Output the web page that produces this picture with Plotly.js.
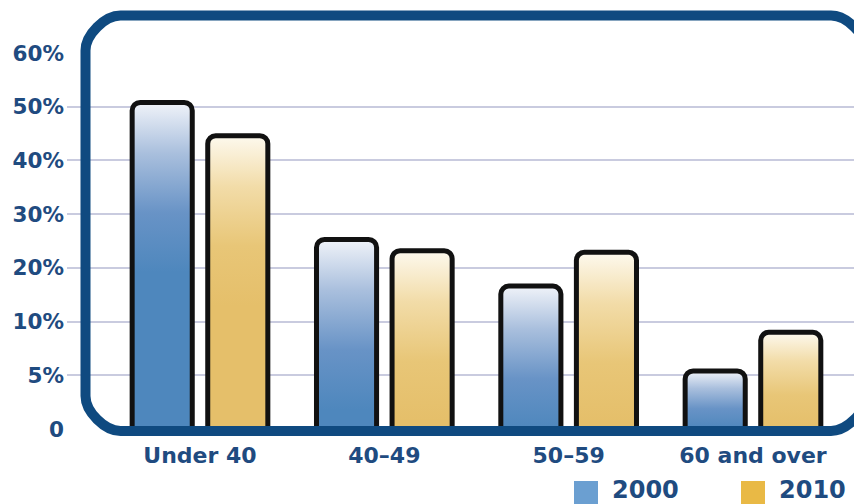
<!DOCTYPE html>
<html>
<head>
<meta charset="utf-8">
<script src="https://cdn.plot.ly/plotly-3.0.1.min.js"></script>
<style>
  html, body { margin: 0; padding: 0; background: #ffffff; }
  #chart { width: 854px; height: 504px; }
</style>
</head>
<body>
<div id="chart"></div>
<script>
// ---- data ----
const categories = ["Under 40", "40–49", "50–59", "60 and over"];
const seriesNames = ["2000", "2010"];
const values2000 = [50.8, 25.3, 16.6, 5.4];
const values2010 = [44.6, 23.2, 22.9, 9.0];
const tickPercents = [0, 5, 10, 20, 30, 40, 50, 60];
const tickLabels = ["0", "5%", "10%", "20%", "30%", "40%", "50%", "60%"];

// The original axis is piecewise: 0–10% in 5% steps, then 10% steps, all evenly spaced.
function toAxis(v) { return v <= 10 ? v / 5 : 1 + v / 10; }

const W = 854, H = 504;
const M = { l: 67, r: 0, t: 53, b: 75 };
const PW = W - M.l - M.r, PH = H - M.t - M.b;
const X = px => (px - M.l) / PW;
const Y = py => (H - M.b - py) / PH;

const textColor = "#1f4b80";
const frameColor = "#0f4a80";
const font = "DejaVu Sans, Verdana, sans-serif";

const barWidth = 0.326;
const barShift = 0.205;

const trace2000 = {
  type: "bar", name: seriesNames[0], x: categories,
  y: values2000.map(toAxis), customdata: values2000,
  hovertemplate: "%{x}: %{customdata}%<extra>" + seriesNames[0] + "</extra>",
  width: barWidth, offset: -barShift - barWidth / 2,
  marker: { color: "#4f86bd", cornerradius: 8, line: { color: "#111111", width: 5 } }
};
const trace2010 = {
  type: "bar", name: seriesNames[1], x: categories,
  y: values2010.map(toAxis), customdata: values2010,
  hovertemplate: "%{x}: %{customdata}%<extra>" + seriesNames[1] + "</extra>",
  width: barWidth, offset: barShift - barWidth / 2,
  marker: { color: "#e6bd66", cornerradius: 8, line: { color: "#111111", width: 5 } }
};

// rounded frame
const fl = 85.5, fr = 866, ft = 15.5, fb = 431, r = 35, k = 0.45 * r;
const framePath = [
  `M ${X(fl)},${Y(ft + r)}`,
  `C ${X(fl)},${Y(ft + r - k)} ${X(fl + r - k)},${Y(ft)} ${X(fl + r)},${Y(ft)}`,
  `L ${X(fr - r)},${Y(ft)}`,
  `C ${X(fr - r + k)},${Y(ft)} ${X(fr)},${Y(ft + r - k)} ${X(fr)},${Y(ft + r)}`,
  `L ${X(fr)},${Y(fb - r)}`,
  `C ${X(fr)},${Y(fb - r + k)} ${X(fr - r + k)},${Y(fb)} ${X(fr - r)},${Y(fb)}`,
  `L ${X(fl + r)},${Y(fb)}`,
  `C ${X(fl + r - k)},${Y(fb)} ${X(fl)},${Y(fb - r + k)} ${X(fl)},${Y(fb - r)}`,
  "Z"
].join(" ");

const legendColors = ["#6b9fd1", "#e9b945"];
const legendX = [574, 741];

const shapes = [
  { type: "path", xref: "paper", yref: "paper", path: framePath, layer: "above",
    line: { color: frameColor, width: 10 }, fillcolor: "rgba(0,0,0,0)" }
];
const annotations = [];
seriesNames.forEach((n, i) => {
  shapes.push({ type: "rect", xref: "paper", yref: "paper",
    x0: X(legendX[i]), x1: X(legendX[i] + 24), y0: Y(481), y1: Y(510),
    fillcolor: legendColors[i], line: { width: 0 }, layer: "above" });
  annotations.push({ xref: "paper", yref: "paper", x: X(legendX[i] + 37), y: Y(490.5),
    xanchor: "left", yanchor: "middle", showarrow: false, text: "<b>" + n + "</b>",
    height: 26, valign: "middle", borderpad: 0,
    font: { family: font, size: 24, color: textColor } });
});

const layout = {
  width: W, height: H, margin: M,
  paper_bgcolor: "#ffffff", plot_bgcolor: "#ffffff",
  showlegend: false, barmode: "overlay",
  xaxis: {
    type: "category", range: [-0.7215, 3.548], fixedrange: true,
    showgrid: false, zeroline: false, showline: false, ticks: "",
    tickfont: { family: font, size: 22, color: textColor, weight: "bold" },
    ticklabelstandoff: 11
  },
  yaxis: {
    range: [0, 7], tickvals: tickPercents.map(toAxis), ticktext: tickLabels,
    showgrid: true, gridcolor: "#c9cbdf", gridwidth: 2, zeroline: false,
    showline: false, ticks: "", fixedrange: true,
    tickfont: { family: font, size: 21.5, color: textColor, weight: "bold" },
    ticklabelstandoff: 2
  },
  shapes: shapes, annotations: annotations
};

Plotly.newPlot("chart", [trace2000, trace2010], layout, { displayModeBar: false, staticPlot: true })
.then(gd => {
  const svg = gd.querySelector(".main-svg");
  const ns = "http://www.w3.org/2000/svg";
  let defs = svg.querySelector("defs");
  if (!defs) { defs = document.createElementNS(ns, "defs"); svg.insertBefore(defs, svg.firstChild); }
  const gradStops = [
    [[0, "#f0f3f9"], [0.3, "#a9bfdd"], [0.65, "#6893c6"], [1, "#4e87bd"]],
    [[0, "#fdf9ee"], [0.3, "#f2dca8"], [0.65, "#e8c677"], [1, "#e5bf6a"]]
  ];
  const traces = gd.querySelectorAll(".barlayer .trace");
  traces.forEach((t, i) => {
    t.querySelectorAll(".point path").forEach((p, j) => {
      const bb = p.getBBox();
      const id = "g" + i + "_" + j;
      const lg = document.createElementNS(ns, "linearGradient");
      lg.setAttribute("id", id);
      lg.setAttribute("gradientUnits", "userSpaceOnUse");
      lg.setAttribute("x1", bb.x); lg.setAttribute("x2", bb.x);
      lg.setAttribute("y1", bb.y);
      lg.setAttribute("y2", bb.y + Math.min(bb.height, 170));
      gradStops[i].forEach(s => {
        const st = document.createElementNS(ns, "stop");
        st.setAttribute("offset", s[0]);
        st.setAttribute("stop-color", s[1]);
        lg.appendChild(st);
      });
      defs.appendChild(lg);
      p.style.fill = "url(#" + id + ")";
      p.style.strokeLinejoin = "round";
    });
  });
});
</script>
</body>
</html>
